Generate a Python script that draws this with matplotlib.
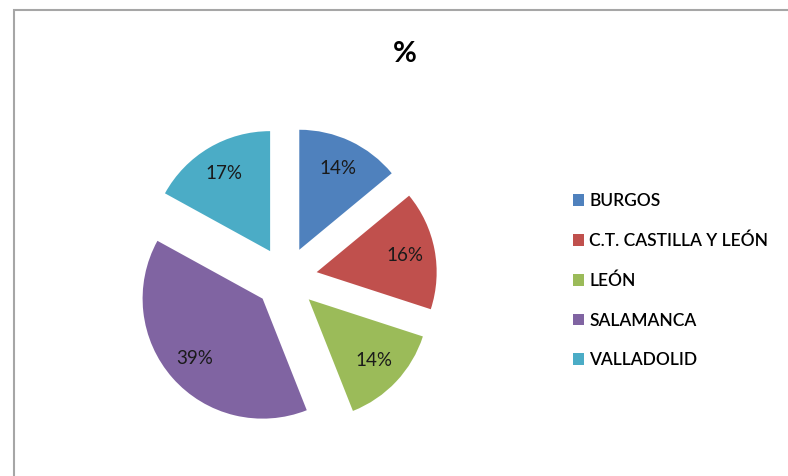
import matplotlib.pyplot as plt
from matplotlib.patches import Rectangle

# datos del grafico
provincias = ['BURGOS', 'C.T. CASTILLA Y LEÓN', 'LEÓN', 'SALAMANCA', 'VALLADOLID']
porcentajes = [14, 16, 14, 39, 17]
colores = ['#4F81BD', '#C0504D', '#9BBB59', '#8064A2', '#4BACC6']
separacion = [0.26, 0.26, 0.26, 0.26, 0.26]

plt.rcParams['font.family'] = ['Lato', 'DejaVu Sans']

fig = plt.figure(figsize=(7.88, 4.76), dpi=100)

# marco gris del area del grafico
fig.patches.append(Rectangle((14 / 788, -0.1), 1.0, 466 / 476 + 0.1,
                             transform=fig.transFigure, fill=False,
                             edgecolor='#A6A6A6', linewidth=1.5))

ax = fig.add_axes([106 / 788, 18 / 476, 360 / 788, 360 / 476])
wedges, textos, autotextos = ax.pie(porcentajes, colors=colores, explode=separacion,
                                    startangle=90, counterclock=False, radius=1.0,
                                    autopct='%1.0f%%', pctdistance=0.75,
                                    textprops={'fontsize': 13.5, 'color': '#1a1a1a'})
ax.set_xlim(-1.5, 1.5)
ax.set_ylim(-1.5, 1.5)
ax.set_aspect('equal')
ax.axis('off')

fig.text(405 / 788, 1 - 54 / 476, '%', ha='center', va='center',
         fontsize=21, fontweight='bold')

fig.legend(wedges, provincias, loc='upper left',
           bbox_to_anchor=(566 / 788, 1 - 186 / 476), frameon=False,
           handlelength=0.65, handleheight=0.65,
           handletextpad=0.3, labelspacing=1.36, borderaxespad=0,
           prop={'size': 12.5, 'weight': 'semibold'})

plt.savefig('out.png', dpi=100)
